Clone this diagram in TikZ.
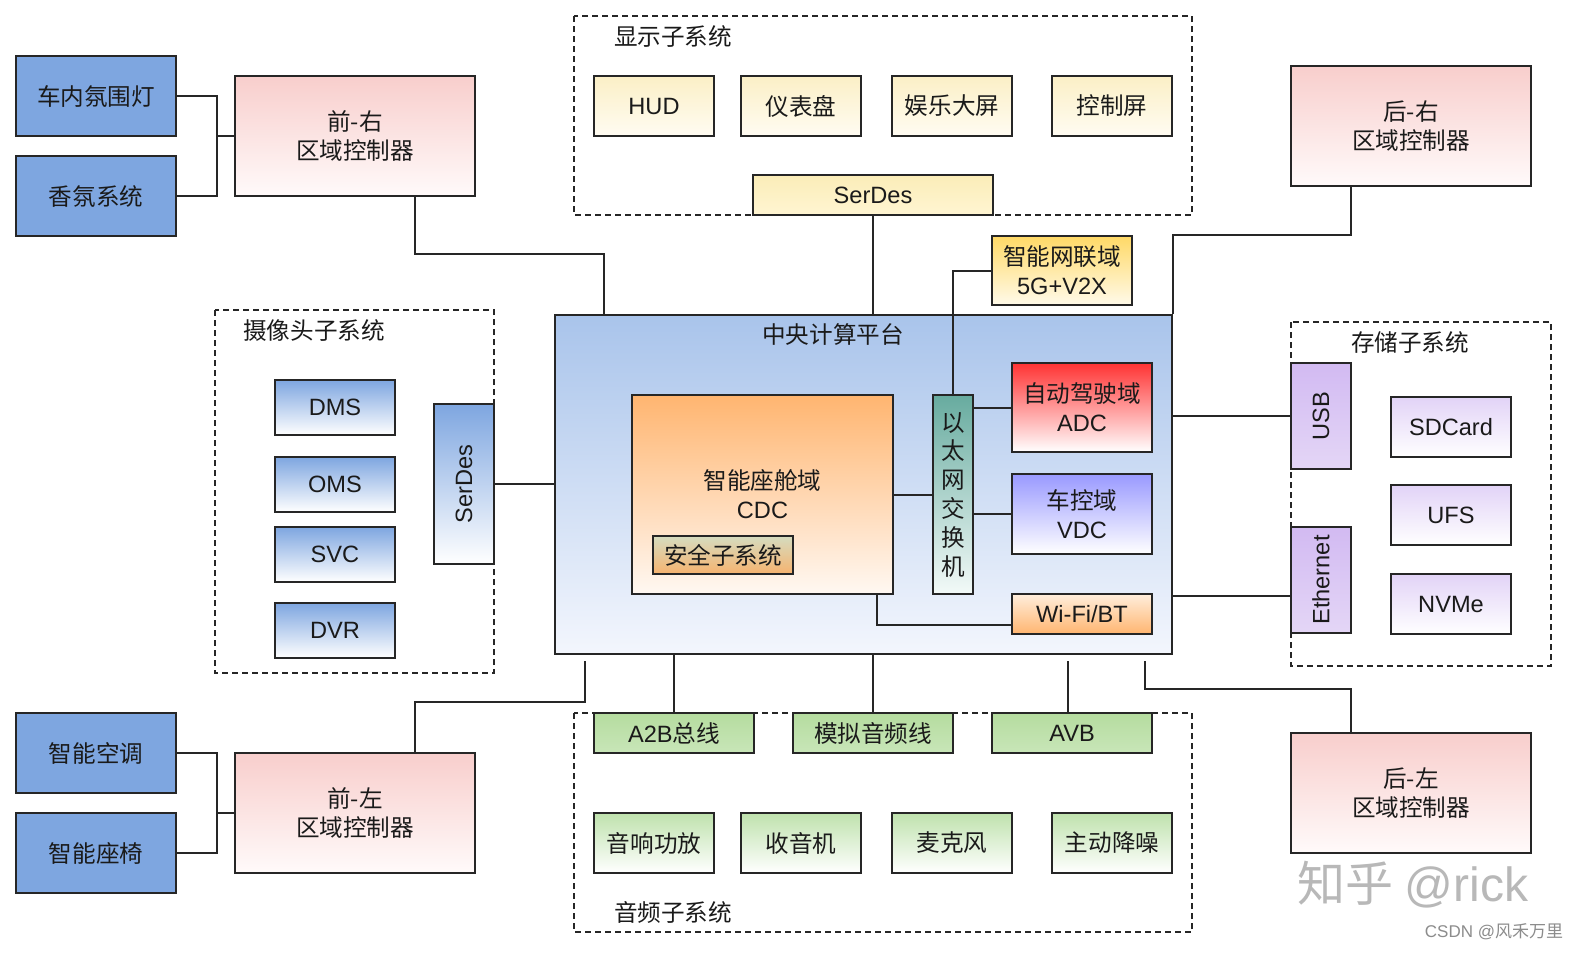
\documentclass[tikz,border=0pt]{standalone}
\usepackage{fontspec}
\usepackage{graphicx}
\setmainfont{Noto Sans CJK SC}
\newfontfamily\lat{Liberation Sans}
\newcommand\fsz{\fontsize{11.8}{14.5}\selectfont}
\newcommand\bx[7]{\node[#6, minimum width={(#4-#2)*0.5pt}, minimum height={(#5-#3)*0.5pt}] (#1) at ({(#2+#4)/2},{(#3+#5)/2}) {#7};}
\definecolor{edge}{HTML}{262626}
\definecolor{txt}{HTML}{1A1A1A}
\definecolor{blueA}{HTML}{7EA6E0}
\definecolor{pinkT}{HTML}{F8CECC}
\definecolor{pinkB}{HTML}{FFFAFA}
\definecolor{yelT}{HTML}{FBEFC6}
\definecolor{yelB}{HTML}{FFFCF2}
\definecolor{grnT}{HTML}{B5DC9F}
\definecolor{grnB}{HTML}{C8E6B8}
\definecolor{grn2T}{HTML}{BFE2AD}
\definecolor{purT}{HTML}{D2BAF2}
\definecolor{purB}{HTML}{E4D6F6}
\definecolor{pur2T}{HTML}{E2D3F7}
\definecolor{cpT}{HTML}{A9C4EB}
\definecolor{cpB}{HTML}{F3F6FD}
\definecolor{dserT}{HTML}{FBEDB8}
\definecolor{dserB}{HTML}{FFF5D2}
\definecolor{v2xT}{HTML}{FFD966}
\definecolor{v2xB}{HTML}{FFFAEA}
\definecolor{cdcT}{HTML}{FFB570}
\definecolor{cdcB}{HTML}{FFF8F2}
\definecolor{secT}{HTML}{D5DCC0}
\definecolor{secB}{HTML}{F6B36F}
\definecolor{swT}{HTML}{67AB9F}
\definecolor{swB}{HTML}{F3FAF8}
\definecolor{adcT}{HTML}{FF3333}
\definecolor{vdcT}{HTML}{9999FF}
\definecolor{wifiT}{HTML}{FFEEDC}
\definecolor{wifiB}{HTML}{FFB570}
\tikzset{
  box/.style={draw=edge, line width=1pt, inner sep=0pt, align=center, font=\fsz, text=txt},
  grad/.style 2 args={box, top color=#1, bottom color=#2},
  solidblue/.style={box, fill=blueA},
  pinkbox/.style={grad={pinkT}{pinkB}},
  yelbox/.style={grad={yelT}{yelB}},
  camblue/.style={grad={blueA}{white}},
  greenbar/.style={grad={grnT}{grnB}},
  greenbox/.style={grad={grn2T}{white}},
  purpbar/.style={grad={purT}{purB}},
  purpbox/.style={grad={pur2T}{white}},
  dashbox/.style={draw=edge, line width=1pt, dash pattern=on 3pt off 2pt},
  conn/.style={draw=edge, line width=1pt},
  title/.style={font=\fsz, text=txt, inner sep=0pt}
}
\begin{document}
\begin{tikzpicture}[x=0.5pt, y=-0.5pt]
\useasboundingbox[fill=white] (0,0) rectangle (1574,954);

% dashed subsystem frames
\draw[dashbox] (574,16) rectangle (1192,215);
\draw[dashbox] (215,310) rectangle (494,673);
\draw[dashbox] (1291,322) rectangle (1551,666);
\draw[dashbox] (574,713) rectangle (1192,932);
\node[title] (tdisp) at (673,36) {显示子系统};
\node[title] (tcam) at (314,330) {摄像头子系统};
\node[title] (tsto) at (1410,342) {存储子系统};
\node[title] (taud) at (673,912) {音频子系统};

% central platform
\bx{cp}{555}{315}{1172}{654}{grad={cpT}{cpB}}{}
\node[title] (tcp) at (833,334) {中央计算平台};

% top-left
\bx{amb}{16}{56}{176}{136}{solidblue}{车内氛围灯}
\bx{frag}{16}{156}{176}{236}{solidblue}{香氛系统}
\bx{fr}{235}{76}{475}{196}{pinkbox}{前-右\\区域控制器}

% display
\bx{hud}{594}{76}{714}{136}{yelbox}{\lat HUD}
\bx{ins}{741}{76}{861}{136}{yelbox}{仪表盘}
\bx{ent}{892}{76}{1012}{136}{yelbox}{娱乐大屏}
\bx{ctl}{1052}{76}{1172}{136}{yelbox}{控制屏}
\bx{dser}{753}{175}{993}{215}{grad={dserT}{dserB}}{\lat SerDes}

\bx{v2x}{992}{236}{1132}{305}{grad={v2xT}{v2xB}}{智能网联域\\{\lat 5G+V2X}}
\bx{rr}{1291}{66}{1531}{186}{pinkbox}{后-右\\区域控制器}

% inside central
\bx{cdc}{632}{395}{893}{594}{grad={cdcT}{cdcB}}{智能座舱域\\{\lat CDC}}
\bx{sec}{653}{536}{793}{574}{grad={secT}{secB}}{安全子系统}
\bx{sw}{933}{395}{973}{594}{grad={swT}{swB}, font=\fontsize{11.8}{14.4}\selectfont}{以\\太\\网\\交\\换\\机}
\bx{adc}{1012}{363}{1152}{452}{grad={adcT}{white}}{自动驾驶域\\{\lat ADC}}
\bx{vdc}{1012}{474}{1152}{554}{grad={vdcT}{white}}{车控域\\{\lat VDC}}
\bx{wifi}{1012}{594}{1152}{634}{grad={wifiT}{wifiB}}{\lat Wi-Fi/BT}

% camera
\bx{dms}{275}{380}{395}{435}{camblue}{\lat DMS}
\bx{oms}{275}{457}{395}{512}{camblue}{\lat OMS}
\bx{svc}{275}{527}{395}{582}{camblue}{\lat SVC}
\bx{dvr}{275}{603}{395}{658}{camblue}{\lat DVR}
\bx{camser}{434}{404}{494}{564}{camblue}{\rotatebox{90}{\lat SerDes}}

% storage
\bx{usb}{1291}{363}{1351}{469}{purpbar}{\rotatebox{90}{\lat USB}}
\bx{eth}{1291}{527}{1351}{633}{purpbar}{\rotatebox{90}{\lat Ethernet}}
\bx{sd}{1391}{397}{1511}{457}{purpbox}{\lat SDCard}
\bx{ufs}{1391}{485}{1511}{545}{purpbox}{\lat UFS}
\bx{nvme}{1391}{574}{1511}{634}{purpbox}{\lat NVMe}

% audio
\bx{a2b}{594}{713}{754}{753}{greenbar}{{\lat A2B}总线}
\bx{ana}{793}{713}{953}{753}{greenbar}{模拟音频线}
\bx{avb}{992}{713}{1152}{753}{greenbar}{\lat AVB}
\bx{amp}{594}{813}{714}{873}{greenbox}{音响功放}
\bx{rad}{741}{813}{861}{873}{greenbox}{收音机}
\bx{mic}{892}{813}{1012}{873}{greenbox}{麦克风}
\bx{anc}{1052}{813}{1172}{873}{greenbox}{主动降噪}

% bottom-left
\bx{ac}{16}{713}{176}{793}{solidblue}{智能空调}
\bx{seat}{16}{813}{176}{893}{solidblue}{智能座椅}
\bx{fl}{235}{753}{475}{873}{pinkbox}{前-左\\区域控制器}
\bx{rl}{1291}{733}{1531}{853}{pinkbox}{后-左\\区域控制器}

% connectors
\draw[conn] (amb.east) -- ++(20pt,0) |- (frag.east);
\draw[conn] ([xshift=20pt]amb.east |- fr.west) -- (fr.west);
\draw[conn] ([xshift=30pt]fr.south) |- ([xshift=-129.75pt,yshift=30pt]cp.north) -- ([xshift=-129.75pt]cp.north);
\draw[conn] (dser.south) -- (dser.south |- cp.north);
\draw[conn] (v2x.west) -| (sw.north);
\draw[conn] ([xshift=-30pt]rr.south) |- ([yshift=39.5pt]cp.north east) -- (cp.north east);
\draw[conn] (camser.east) -- (camser.east -| cp.west);
\draw[conn] (cdc.east) -- (cdc.east -| sw.west);
\draw[conn] (adc.west -| sw.east) -- (adc.west);
\draw[conn] (vdc.west -| sw.east) -- (vdc.west);
\draw[conn] ([xshift=57.25pt]cdc.south) |- ([yshift=-5.5pt]wifi.west);
\draw[conn] (usb.west -| cp.east) -- (usb.west);
\draw[conn] ([yshift=-8pt]eth.west -| cp.east) -- ([yshift=-8pt]eth.west);
\draw[conn] (a2b.north |- cp.south) -- (a2b.north);
\draw[conn] (ana.north |- cp.south) -- (ana.north);
\draw[conn] ([xshift=-2pt,yshift=-3pt]avb.north |- cp.south) -- ([xshift=-2pt]avb.north);
\draw[conn] ([xshift=-139.25pt,yshift=-3pt]cp.south) |- ([xshift=30pt,yshift=25pt]fl.north) -- ([xshift=30pt]fl.north);
\draw[conn] ([xshift=140.75pt,yshift=-3pt]cp.south) |- ([xshift=-30pt,yshift=21.5pt]rl.north) -- ([xshift=-30pt]rl.north);
\draw[conn] (ac.east) -- ++(20pt,0) |- (seat.east);
\draw[conn] ([xshift=20pt]ac.east |- fl.west) -- (fl.west);

% watermarks
\node[text=black!28, font=\fontsize{24}{26}\selectfont, inner sep=0pt] (wm1) at (1413,885) {知乎 {\lat @rick}};
\node[text=black!45, font=\fontsize{8.5}{10}\selectfont, inner sep=0pt] (wm2) at (1494,932) {{\lat CSDN @}风禾万里};
\end{tikzpicture}
\end{document}
